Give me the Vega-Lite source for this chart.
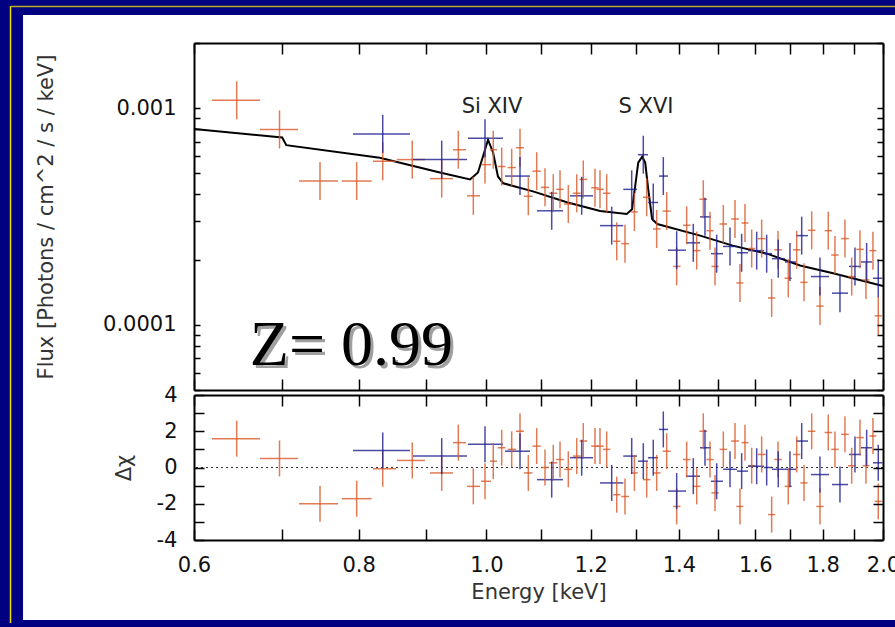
{
"$schema": "https://vega.github.io/schema/vega-lite/v6.json",
"background": "#000080",
"padding": {"left": 9, "top": 5, "right": 0, "bottom": 3},
"spacing": 5,
"bounds": "flush",
"config": {
  "view": {"stroke": null},
  "axis": {"labelFont": "DejaVu Sans", "labelFontSize": 21, "labelColor": "#111", "titleFont": "DejaVu Sans", "titleFontSize": 21, "titleFontWeight": "normal", "titleColor": "#333", "domainColor": "#000", "domainWidth": 2, "tickColor": "#000", "tickWidth": 1.5, "grid": false, "zindex": 1, "labelOverlap": false, "labelFlush": false}
},
"datasets": {
  "one": [{}],
  "ann": [{"t": "Si XIV", "E": 1.010, "F": 0.00101}, {"t": "S XVI", "E": 1.3219, "F": 0.00101}],
  "ztext": [{"t": "Z= 0.99", "E": 0.790, "F": 0.0000652}],
  "model": [
    {"E": 0.600, "F": 0.000802}, {"E": 0.6937, "F": 0.000737}, {"E": 0.700, "F": 0.000733}, {"E": 0.705, "F": 0.000675},
    {"E": 0.830, "F": 0.000591}, {"E": 0.922, "F": 0.000505}, {"E": 0.972, "F": 0.000469}, {"E": 0.9855, "F": 0.000505},
    {"E": 0.994, "F": 0.000597}, {"E": 1.003, "F": 0.000715}, {"E": 1.012, "F": 0.000623}, {"E": 1.0205, "F": 0.000484},
    {"E": 1.030, "F": 0.000450}, {"E": 1.085, "F": 0.000413}, {"E": 1.151, "F": 0.000368}, {"E": 1.220, "F": 0.000335},
    {"E": 1.278, "F": 0.000325}, {"E": 1.290, "F": 0.000342}, {"E": 1.297, "F": 0.000436}, {"E": 1.304, "F": 0.000561},
    {"E": 1.313, "F": 0.000597}, {"E": 1.320, "F": 0.000561}, {"E": 1.327, "F": 0.000422}, {"E": 1.336, "F": 0.000308},
    {"E": 1.348, "F": 0.000292}, {"E": 1.453, "F": 0.000258}, {"E": 1.538, "F": 0.000232}, {"E": 1.633, "F": 0.000213},
    {"E": 1.730, "F": 0.000188}, {"E": 1.833, "F": 0.000173}, {"E": 2.000, "F": 0.000151}
  ],
  "pts": [
    {"s":"o","E":0.6465,"lo":0.6192,"hi":0.6733,"F":0.001088,"R":1.59},
    {"s":"o","E":0.6967,"lo":0.6733,"hi":0.7196,"F":0.000798,"R":0.5},
    {"s":"o","E":0.7478,"lo":0.7208,"hi":0.7717,"F":0.000461,"R":-2.0},
    {"s":"o","E":0.7973,"lo":0.7767,"hi":0.8185,"F":0.000461,"R":-1.72},
    {"s":"o","E":0.8344,"lo":0.8203,"hi":0.8540,"F":0.000569,"R":-0.07},
    {"s":"o","E":0.8786,"lo":0.8555,"hi":0.8983,"F":0.000579,"R":0.39},
    {"s":"o","E":0.9250,"lo":0.9062,"hi":0.9434,"F":0.000473,"R":-0.3},
    {"s":"o","E":0.9522,"lo":0.9434,"hi":0.9651,"F":0.000643,"R":1.37},
    {"s":"o","E":0.9775,"lo":0.9668,"hi":0.9890,"F":0.000394,"R":-1.04},
    {"s":"o","E":0.9977,"lo":0.9907,"hi":1.0082,"F":0.000549,"R":-0.76},
    {"s":"o","E":1.0122,"lo":1.0064,"hi":1.0188,"F":0.000643,"R":0.35},
    {"s":"o","E":1.0272,"lo":1.020,"hi":1.034,"F":0.000538,"R":1.09},
    {"s":"o","E":1.0453,"lo":1.038,"hi":1.053,"F":0.000532,"R":1.0},
    {"s":"o","E":1.0606,"lo":1.053,"hi":1.068,"F":0.000657,"R":2.0},
    {"s":"o","E":1.0761,"lo":1.068,"hi":1.084,"F":0.000392,"R":-0.3},
    {"s":"o","E":1.0920,"lo":1.084,"hi":1.100,"F":0.000512,"R":1.18},
    {"s":"o","E":1.1080,"lo":1.100,"hi":1.116,"F":0.000431,"R":0.0},
    {"s":"o","E":1.1241,"lo":1.116,"hi":1.132,"F":0.000405,"R":0.26},
    {"s":"o","E":1.1374,"lo":1.130,"hi":1.145,"F":0.000422,"R":0.44},
    {"s":"o","E":1.1540,"lo":1.146,"hi":1.162,"F":0.000361,"R":-0.1},
    {"s":"o","E":1.1711,"lo":1.163,"hi":1.179,"F":0.000405,"R":0.63},
    {"s":"o","E":1.1846,"lo":1.177,"hi":1.193,"F":0.000469,"R":1.46},
    {"s":"o","E":1.2091,"lo":1.201,"hi":1.217,"F":0.000429,"R":1.18},
    {"s":"o","E":1.2197,"lo":1.212,"hi":1.228,"F":0.000422,"R":1.18},
    {"s":"o","E":1.2341,"lo":1.226,"hi":1.242,"F":0.000405,"R":1.0},
    {"s":"o","E":1.2559,"lo":1.248,"hi":1.264,"F":0.000243,"R":-1.5},
    {"s":"o","E":1.2742,"lo":1.266,"hi":1.283,"F":0.000237,"R":-1.6},
    {"s":"o","E":1.2953,"lo":1.288,"hi":1.303,"F":0.000332,"R":-0.3},
    {"s":"o","E":1.3234,"lo":1.315,"hi":1.332,"F":0.000388,"R":-0.67},
    {"s":"o","E":1.3467,"lo":1.338,"hi":1.356,"F":0.000277,"R":-0.3},
    {"s":"o","E":1.3705,"lo":1.361,"hi":1.380,"F":0.000335,"R":0.9},
    {"s":"o","E":1.3946,"lo":1.386,"hi":1.404,"F":0.000186,"R":-2.15},
    {"s":"o","E":1.4192,"lo":1.410,"hi":1.429,"F":0.000288,"R":0.44},
    {"s":"o","E":1.4443,"lo":1.435,"hi":1.454,"F":0.000220,"R":-1.04},
    {"s":"o","E":1.4610,"lo":1.451,"hi":1.471,"F":0.000380,"R":2.0},
    {"s":"o","E":1.4782,"lo":1.469,"hi":1.488,"F":0.000272,"R":0.44},
    {"s":"o","E":1.4912,"lo":1.482,"hi":1.501,"F":0.000186,"R":-1.4},
    {"s":"o","E":1.5130,"lo":1.503,"hi":1.523,"F":0.000292,"R":1.0},
    {"s":"o","E":1.5442,"lo":1.534,"hi":1.555,"F":0.000308,"R":1.46},
    {"s":"o","E":1.5577,"lo":1.548,"hi":1.567,"F":0.000156,"R":-2.15},
    {"s":"o","E":1.5714,"lo":1.562,"hi":1.581,"F":0.000295,"R":1.37},
    {"s":"o","E":1.5899,"lo":1.580,"hi":1.600,"F":0.000225,"R":0.1},
    {"s":"o","E":1.6179,"lo":1.607,"hi":1.629,"F":0.000250,"R":0.72},
    {"s":"o","E":1.6464,"lo":1.636,"hi":1.657,"F":0.000133,"R":-2.6},
    {"s":"o","E":1.6647,"lo":1.654,"hi":1.676,"F":0.000222,"R":0.44},
    {"s":"o","E":1.6949,"lo":1.684,"hi":1.706,"F":0.000164,"R":-1.04},
    {"s":"o","E":1.7200,"lo":1.709,"hi":1.731,"F":0.000222,"R":0.72},
    {"s":"o","E":1.7421,"lo":1.731,"hi":1.753,"F":0.000157,"R":-0.85},
    {"s":"o","E":1.7657,"lo":1.754,"hi":1.777,"F":0.000273,"R":2.0},
    {"s":"o","E":1.7914,"lo":1.780,"hi":1.803,"F":0.000122,"R":-2.15},
    {"s":"o","E":1.8176,"lo":1.806,"hi":1.830,"F":0.000272,"R":1.93},
    {"s":"o","E":1.8390,"lo":1.827,"hi":1.851,"F":0.000210,"R":1.0},
    {"s":"o","E":1.8714,"lo":1.859,"hi":1.884,"F":0.000250,"R":1.83},
    {"s":"o","E":1.8935,"lo":1.881,"hi":1.906,"F":0.000167,"R":0.1},
    {"s":"o","E":1.9211,"lo":1.909,"hi":1.934,"F":0.000223,"R":1.65},
    {"s":"o","E":1.9413,"lo":1.930,"hi":1.953,"F":0.000161,"R":0.1},
    {"s":"o","E":1.9652,"lo":1.953,"hi":1.977,"F":0.000220,"R":1.74},
    {"s":"o","E":1.9835,"lo":1.971,"hi":1.996,"F":0.000110,"R":-1.87},
    {"s":"b","E":0.8344,"lo":0.7922,"hi":0.8751,"F":0.000761,"R":0.94},
    {"s":"b","E":0.9250,"lo":0.8797,"hi":0.9668,"F":0.000579,"R":0.63},
    {"s":"b","E":0.9977,"lo":0.9685,"hi":1.0295,"F":0.000727,"R":1.28},
    {"s":"b","E":1.0606,"lo":1.0331,"hi":1.0793,"F":0.000486,"R":0.9},
    {"s":"b","E":1.1210,"lo":1.0926,"hi":1.1434,"F":0.000336,"R":-0.67},
    {"s":"b","E":1.1813,"lo":1.1574,"hi":1.2049,"F":0.000394,"R":0.54},
    {"s":"b","E":1.2449,"lo":1.2197,"hi":1.2704,"F":0.000287,"R":-0.85},
    {"s":"b","E":1.2892,"lo":1.2704,"hi":1.3012,"F":0.000422,"R":0.63},
    {"s":"b","E":1.3156,"lo":1.3035,"hi":1.3264,"F":0.000610,"R":0.35},
    {"s":"b","E":1.3387,"lo":1.3264,"hi":1.3498,"F":0.000367,"R":0.54},
    {"s":"b","E":1.3624,"lo":1.3522,"hi":1.3736,"F":0.000486,"R":2.1},
    {"s":"b","E":1.3946,"lo":1.3736,"hi":1.4175,"F":0.000221,"R":-1.3},
    {"s":"b","E":1.4357,"lo":1.4175,"hi":1.4526,"F":0.000239,"R":-0.48},
    {"s":"b","E":1.4653,"lo":1.4526,"hi":1.4808,"F":0.000315,"R":1.09},
    {"s":"b","E":1.4956,"lo":1.4808,"hi":1.5122,"F":0.000213,"R":-0.76},
    {"s":"b","E":1.5308,"lo":1.5122,"hi":1.5496,"F":0.000230,"R":-0.1},
    {"s":"b","E":1.5623,"lo":1.5496,"hi":1.5796,"F":0.000215,"R":-0.2},
    {"s":"b","E":1.6039,"lo":1.5796,"hi":1.6244,"F":0.000220,"R":0.07},
    {"s":"b","E":1.6321,"lo":1.6244,"hi":1.6473,"F":0.000213,"R":0.0},
    {"s":"b","E":1.6655,"lo":1.6473,"hi":1.6849,"F":0.000202,"R":-0.1},
    {"s":"b","E":1.6999,"lo":1.6849,"hi":1.7179,"F":0.000195,"R":-0.1},
    {"s":"b","E":1.7351,"lo":1.7179,"hi":1.7543,"F":0.000258,"R":1.46},
    {"s":"b","E":1.7914,"lo":1.7635,"hi":1.8199,"F":0.000167,"R":-0.39},
    {"s":"b","E":1.8551,"lo":1.8294,"hi":1.8813,"F":0.000140,"R":-0.94},
    {"s":"b","E":1.9044,"lo":1.8846,"hi":1.9245,"F":0.000186,"R":0.72},
    {"s":"b","E":1.9437,"lo":1.9245,"hi":1.9618,"F":0.000195,"R":1.09},
    {"s":"b","E":1.9835,"lo":1.9652,"hi":1.9977,"F":0.000164,"R":0.26}
  ]
},
"vconcat": [
  {
    "width": 689, "height": 347,
    "resolve": {"axis": {"x": "independent", "y": "independent"}},
    "layer": [
      {"data": {"name": "one"}, "mark": {"type": "rect", "color": "white"},
       "encoding": {
         "x": {"datum": 0.44504, "type": "quantitative", "scale": {"type": "log", "domain": [0.6, 2.0], "nice": false}, "axis": null},
         "x2": {"datum": 2.0784},
         "y": {"datum": 0.0026934, "type": "quantitative", "scale": {"type": "log", "domain": [0.00005, 0.002], "nice": false}, "axis": null},
         "y2": {"datum": 0.0000043367}}},
      {"data": {"name": "one"}, "mark": {"type": "rule", "color": "#e8e000", "strokeWidth": 1.5},
       "encoding": {
         "x": {"datum": 0.435426, "type": "quantitative", "scale": {"type": "log", "domain": [0.6, 2.0], "nice": false}, "axis": null},
         "y": {"datum": 0.0029638, "type": "quantitative", "scale": {"type": "log", "domain": [0.00005, 0.002], "nice": false}, "axis": null},
         "y2": {"datum": 0.0000042007}}},
      {"data": {"name": "one"}, "mark": {"type": "rule", "color": "#b8b020", "strokeWidth": 1.5},
       "encoding": {
         "x": {"datum": 0.435426, "type": "quantitative", "scale": {"type": "log", "domain": [0.6, 2.0], "nice": false}, "axis": null},
         "x2": {"datum": 2.0784},
         "y": {"datum": 0.0029481, "type": "quantitative", "scale": {"type": "log", "domain": [0.00005, 0.002], "nice": false}, "axis": null}}},
      {"data": {"name": "model"}, "mark": {"type": "line", "color": "#000", "strokeWidth": 2},
       "encoding": {
         "x": {"field": "E", "type": "quantitative", "scale": {"type": "log", "domain": [0.6, 2.0], "nice": false},
               "axis": {"orient": "bottom", "zindex": 2, "values": [0.6,0.7,0.8,0.9,1.0,1.1,1.2,1.3,1.4,1.5,1.6,1.7,1.8,1.9,2.0], "labels": false, "title": null, "tickSize": -11}},
         "y": {"field": "F", "type": "quantitative", "scale": {"type": "log", "domain": [0.00005, 0.002], "nice": false},
               "axis": {"orient": "left", "zindex": 2, "values": [0.00005,0.00006,0.00007,0.00008,0.00009,0.0001,0.0002,0.0003,0.0004,0.0005,0.0006,0.0007,0.0008,0.0009,0.001,0.002],
                        "labelExpr": "datum.value == 0.001 ? '0.001' : (datum.value == 0.0001 ? '0.0001' : '')",
                        "tickSize": -6, "labelPadding": 24, "title": "Flux [Photons / cm^2 / s / keV]", "titlePadding": 46,
                        "encode": {"ticks": {"update": {"x2": {"signal": "(datum.value == 0.001 || datum.value == 0.0001) ? 12 : 6"}}}}}}}},
      {"data": {"name": "pts"}, "mark": {"type": "rule", "strokeWidth": 1.5, "opacity": 0.8},
       "encoding": {
         "x": {"field": "lo", "type": "quantitative", "scale": {"type": "log", "domain": [0.6, 2.0], "nice": false},
               "axis": {"orient": "top", "zindex": 2, "values": [0.6,0.7,0.8,0.9,1.0,1.1,1.2,1.3,1.4,1.5,1.6,1.7,1.8,1.9,2.0], "labels": false, "title": null, "tickSize": -11}},
         "x2": {"field": "hi"},
         "y": {"field": "F", "type": "quantitative", "scale": {"type": "log", "domain": [0.00005, 0.002], "nice": false},
               "axis": {"orient": "right", "zindex": 2, "values": [0.00005,0.00006,0.00007,0.00008,0.00009,0.0001,0.0002,0.0003,0.0004,0.0005,0.0006,0.0007,0.0008,0.0009,0.001,0.002],
                        "labels": false, "title": null, "tickSize": -6,
                        "encode": {"ticks": {"update": {"x2": {"signal": "(datum.value == 0.001 || datum.value == 0.0001) ? -12 : -6"}}}}}},
         "color": {"field": "s", "type": "nominal", "scale": {"domain": ["o", "b"], "range": ["#d95a2b", "#1e1e90"]}, "legend": null}}},
      {"data": {"name": "pts"}, "mark": {"type": "tick", "orient": "vertical", "size": 38, "thickness": 1.5, "opacity": 0.8},
       "encoding": {
         "x": {"field": "E", "type": "quantitative", "scale": {"type": "log", "domain": [0.6, 2.0], "nice": false}, "axis": null},
         "y": {"field": "F", "type": "quantitative", "scale": {"type": "log", "domain": [0.00005, 0.002], "nice": false}, "axis": null},
         "color": {"field": "s", "type": "nominal", "scale": {"domain": ["o", "b"], "range": ["#d95a2b", "#1e1e90"]}, "legend": null}}},
      {"data": {"name": "ann"}, "mark": {"type": "text", "font": "DejaVu Sans", "fontSize": 21, "color": "#222", "baseline": "middle", "align": "center"},
       "encoding": {
         "x": {"field": "E", "type": "quantitative", "scale": {"type": "log", "domain": [0.6, 2.0], "nice": false}, "axis": null},
         "y": {"field": "F", "type": "quantitative", "scale": {"type": "log", "domain": [0.00005, 0.002], "nice": false}, "axis": null},
         "text": {"field": "t"}}},
      {"data": {"name": "ztext"}, "mark": {"type": "text", "font": "Liberation Serif", "fontSize": 64, "color": "#a0a0a0", "baseline": "alphabetic", "align": "center", "dx": 3, "dy": 3},
       "encoding": {
         "x": {"field": "E", "type": "quantitative", "scale": {"type": "log", "domain": [0.6, 2.0], "nice": false}, "axis": null},
         "y": {"field": "F", "type": "quantitative", "scale": {"type": "log", "domain": [0.00005, 0.002], "nice": false}, "axis": null},
         "text": {"field": "t"}}},
      {"data": {"name": "ztext"}, "mark": {"type": "text", "font": "Liberation Serif", "fontSize": 64, "color": "#000", "baseline": "alphabetic", "align": "center"},
       "encoding": {
         "x": {"field": "E", "type": "quantitative", "scale": {"type": "log", "domain": [0.6, 2.0], "nice": false}, "axis": null},
         "y": {"field": "F", "type": "quantitative", "scale": {"type": "log", "domain": [0.00005, 0.002], "nice": false}, "axis": null},
         "text": {"field": "t"}}}
    ]
  },
  {
    "width": 689, "height": 145,
    "resolve": {"axis": {"x": "independent", "y": "independent"}},
    "layer": [
      {"data": {"name": "one"}, "mark": {"type": "rule", "color": "#333", "strokeDash": [2, 3], "strokeWidth": 1},
       "encoding": {"y": {"datum": 0, "type": "quantitative", "scale": {"domain": [-4, 4], "nice": false, "zero": false}, "axis": null}}},
      {"data": {"name": "pts"}, "mark": {"type": "rule", "strokeWidth": 1.5, "opacity": 0.8},
       "encoding": {
         "x": {"field": "lo", "type": "quantitative", "scale": {"type": "log", "domain": [0.6, 2.0], "nice": false},
               "axis": {"orient": "bottom", "zindex": 2, "values": [0.6,0.7,0.8,0.9,1.0,1.1,1.2,1.3,1.4,1.5,1.6,1.7,1.8,1.9,2.0],
                        "labelExpr": "round(datum.value*10) % 2 == 0 ? format(datum.value, '.1f') : ''",
                        "tickSize": -11, "labelPadding": 25, "title": "Energy [keV]", "titlePadding": 6}},
         "x2": {"field": "hi"},
         "y": {"field": "R", "type": "quantitative", "scale": {"domain": [-4, 4], "nice": false, "zero": false},
               "axis": {"orient": "left", "zindex": 2, "values": [-4,-3,-2,-1,0,1,2,3,4],
                        "labelExpr": "datum.value % 2 == 0 ? '' + datum.value : ''",
                        "tickSize": -10, "labelPadding": 27, "title": "Δχ", "titlePadding": 22}},
         "color": {"field": "s", "type": "nominal", "scale": {"domain": ["o", "b"], "range": ["#d95a2b", "#1e1e90"]}, "legend": null}}},
      {"data": {"name": "pts"}, "mark": {"type": "tick", "orient": "vertical", "size": 36, "thickness": 1.5, "opacity": 0.8},
       "encoding": {
         "x": {"field": "E", "type": "quantitative", "scale": {"type": "log", "domain": [0.6, 2.0], "nice": false},
               "axis": {"orient": "top", "zindex": 2, "values": [0.6,0.7,0.8,0.9,1.0,1.1,1.2,1.3,1.4,1.5,1.6,1.7,1.8,1.9,2.0], "labels": false, "title": null, "tickSize": -11}},
         "y": {"field": "R", "type": "quantitative", "scale": {"domain": [-4, 4], "nice": false, "zero": false},
               "axis": {"orient": "right", "zindex": 2, "values": [-4,-3,-2,-1,0,1,2,3,4], "labels": false, "title": null, "tickSize": -10}},
         "color": {"field": "s", "type": "nominal", "scale": {"domain": ["o", "b"], "range": ["#d95a2b", "#1e1e90"]}, "legend": null}}}
    ]
  }
]
}
